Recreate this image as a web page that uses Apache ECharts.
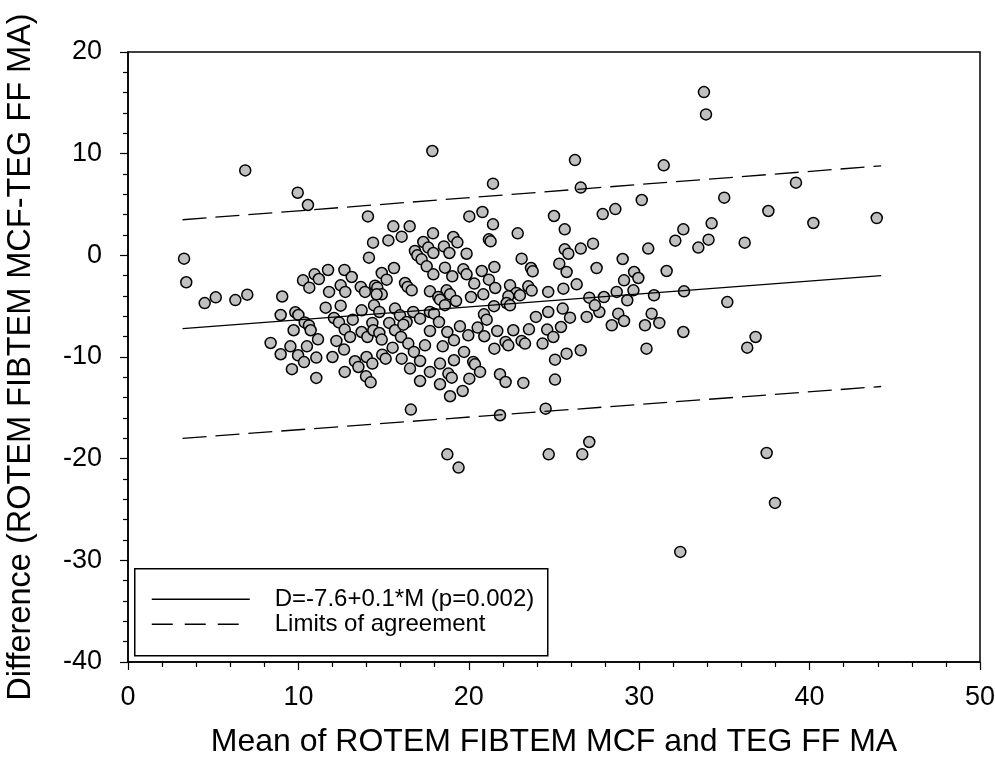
<!DOCTYPE html>
<html>
<head>
<meta charset="utf-8">
<script src="https://cdn.jsdelivr.net/npm/echarts@6/dist/echarts.min.js"></script>
<style>html,body{margin:0;padding:0;background:#fff;}#chart{width:995px;height:780px;}</style>
</head>
<body>
<div id="chart"></div>
<script>
// Mean of the two measurements (x)
const meanVals = [
6.88,9.96,10.56,3.29,3.42,10.27,10.95,11.74,12.70,11.20,10.64,11.80,12.48,12.75,5.15,4.50,6.30,7.00,9.05,8.96,
9.82,10.00,10.37,10.62,10.72,9.72,8.37,8.96,9.53,10.50,11.15,9.98,10.33,11.05,9.62,11.05,11.60,12.48,12.09,12.38,
12.72,12.23,12.68,12.00,12.72,17.86,21.42,14.08,20.03,20.80,21.42,25.00,22.87,15.57,16.53,16.06,15.28,14.38,17.90,17.33,
17.62,17.92,16.84,16.98,17.23,17.53,17.92,18.54,19.09,19.33,18.86,19.87,21.18,21.28,23.10,23.65,23.75,21.50,20.76,19.68,
19.87,18.60,19.03,20.32,21.18,21.55,22.42,22.80,23.49,23.69,24.66,20.85,14.14,15.61,13.13,14.89,15.18,16.26,16.41,16.65,
14.50,14.63,13.66,13.91,14.89,17.72,18.70,18.90,20.13,22.32,23.00,18.21,14.59,18.31,18.60,19.25,21.48,22.22,22.42,23.94,
24.66,13.71,14.44,14.75,15.67,15.96,16.35,16.74,17.14,17.72,17.96,18.25,13.19,13.03,13.71,14.05,14.34,14.40,14.75,14.89,
15.33,15.67,16.02,16.16,16.45,16.78,15.53,14.92,15.12,16.06,16.55,17.14,17.43,17.72,13.32,13.52,14.00,14.34,13.97,14.24,
17.14,17.72,18.31,18.31,18.47,18.74,19.13,19.13,18.80,19.00,18.90,19.64,19.72,19.48,19.97,20.03,20.26,20.36,20.66,20.52,
20.91,20.89,21.05,21.67,21.50,22.16,22.32,22.61,21.83,22.16,23.20,23.10,23.30,23.53,24.33,24.60,24.96,25.06,25.06,16.60,
21.83,24.51,33.80,33.92,26.23,31.44,26.57,30.15,34.99,37.58,27.86,28.60,25.63,32.59,34.25,32.12,34.07,33.47,36.19,27.29,
26.57,25.63,25.84,30.53,25.31,25.74,27.50,29.03,31.61,29.70,29.11,29.95,29.66,26.33,25.55,28.68,30.87,32.63,27.07,27.93,
29.30,35.17,25.51,25.94,26.92,27.66,27.40,28.77,29.11,28.39,30.73,31.18,30.34,32.59,36.83,36.34,30.43,25.41,26.57,25.74,
27.07,26.66,24.69,37.48,39.20,40.22,43.94,18.74,19.40,37.97,32.41
];
// Difference of the two measurements (y)
const diffVals = [
8.35,6.16,4.95,-0.33,-2.65,-2.46,-1.87,-1.44,-1.44,-2.33,-3.18,-3.60,-2.95,-3.60,-4.13,-4.70,-4.40,-3.87,-4.05,-5.87,
-5.60,-5.87,-6.60,-6.90,-7.37,-7.37,-8.62,-9.73,-8.95,-8.95,-8.26,-9.83,-10.50,-10.06,-11.20,-12.06,-5.15,-4.95,-6.16,-6.60,
-7.30,-8.42,-9.27,-10.00,-11.47,10.26,7.05,3.83,3.83,4.26,3.05,3.87,2.16,2.85,2.85,1.84,1.47,1.25,2.16,1.31,
0.76,0.23,0.43,0.00,-0.39,-1.08,-1.87,0.88,1.80,1.28,0.23,0.16,1.57,1.38,-0.33,-1.25,-1.57,-1.15,-1.54,-1.38,
-1.87,-1.21,-2.06,-2.78,-2.39,-3.21,-2.95,-3.70,-3.05,-3.47,-3.60,-3.84,-0.23,-1.25,-2.13,-1.74,-2.39,-2.72,-3.11,-3.44,
-2.98,-3.18,-3.11,-3.60,-3.84,-3.54,-3.44,-3.84,-4.10,-4.03,-3.93,-4.10,-3.84,-4.36,-4.90,-4.49,-5.00,-4.69,-4.92,-6.06,
-5.57,-5.41,-4.92,-5.57,-5.24,-5.90,-6.56,-5.57,-6.23,-5.57,-5.74,-6.56,-6.33,-8.03,-7.54,-8.03,-6.65,-7.37,-7.64,-8.29,
-6.65,-7.37,-8.03,-6.82,-8.68,-9.50,-9.08,-9.77,-10.16,-10.16,-11.14,-10.39,-8.85,-7.44,-10.42,-10.98,-10.00,-10.65,-11.90,-12.49,
-12.36,-11.47,-12.68,-10.65,-8.95,-7.54,-8.36,-10.32,-11.63,-12.03,-13.86,-13.34,-9.50,-6.98,-7.87,-12.13,-10.49,-10.72,-11.47,-7.11,
-7.96,-5.80,-6.33,-7.44,-9.18,-8.52,-8.85,-7.37,-11.70,-12.46,-12.55,-8.42,-8.68,-7.28,-8.68,-7.30,-8.03,-10.26,-12.22,-15.17,
-15.73,-15.08,16.06,13.86,9.37,8.85,6.66,5.44,5.67,4.36,4.06,4.55,2.56,2.56,3.15,1.44,1.54,0.76,1.25,1.15,
0.66,0.59,0.16,0.66,-0.82,-1.64,-1.25,-0.36,-1.54,-1.64,-2.46,-2.23,-3.44,-2.85,-3.28,-3.60,-3.93,-3.54,-4.16,-4.10,
-4.42,-4.60,-5.24,-6.13,-6.06,-5.57,-4.92,-5.74,-6.46,-6.88,-5.74,-6.65,-6.88,-7.54,-8.03,-9.08,-9.18,-7.05,-9.34,-9.67,
-18.36,-19.57,-19.57,-19.44,7.15,3.18,3.67,-19.57,-20.88,-24.35,-29.17
];
// Regression line and limits of agreement (end points)
const lineX = [3.2, 44.2];
const regY = [-7.2, -2.0];
const upperY = [3.5, 8.8];
const lowerY = [-18.0, -12.9];
const xTicks = [0, 10, 20, 30, 40, 50];
const yTicks = [-40, -30, -20, -10, 0, 10, 20];
const legendLabels = ['D=-7.6+0.1*M (p=0.002)', 'Limits of agreement'];

const pts = meanVals.map((m, i) => [m, diffVals[i]]);
const lineData = ys => lineX.map((x, i) => [x, ys[i]]);

const FONT = 'Liberation Sans, Arial, sans-serif';
const chart = echarts.init(document.getElementById('chart'), null, {renderer: 'canvas'});
const axisCommon = {
  axisLine: {show: true, onZero: false, lineStyle: {color: '#000', width: 1.5}},
  axisTick: {show: true, length: 8, lineStyle: {color: '#000', width: 1.2}},
  minorTick: {show: true, splitNumber: 5, length: 5, lineStyle: {color: '#000', width: 1.2}},
  splitLine: {show: false},
  axisLabel: {color: '#000', fontSize: 27, fontFamily: FONT, margin: 26},
  nameTextStyle: {color: '#000', fontSize: 32, fontFamily: FONT}
};
chart.setOption({
  animation: false,
  backgroundColor: '#fff',
  grid: {left: 128, right: 15, top: 52, bottom: 118, outerBoundsMode: 'none', containLabel: false,
         show: true, borderColor: '#000', borderWidth: 1.5, backgroundColor: 'transparent'},
  xAxis: Object.assign({}, axisCommon, {
    type: 'value', min: xTicks[0], max: xTicks[xTicks.length - 1], interval: 10,
    axisLabel: Object.assign({}, axisCommon.axisLabel, {margin: 22}),
    name: 'Mean of ROTEM FIBTEM MCF and TEG FF MA', nameLocation: 'middle', nameGap: 64
  }),
  yAxis: Object.assign({}, axisCommon, {
    type: 'value', min: yTicks[0], max: yTicks[yTicks.length - 1], interval: 10,
    name: 'Difference (ROTEM FIBTEM MCF-TEG FF MA)', nameLocation: 'middle', nameGap: 90,
    nameTextStyle: {color: '#000', fontSize: 32.5, fontFamily: FONT}
  }),
  series: [
    {type: 'scatter', data: pts, symbol: 'circle', symbolSize: 11, z: 2,
     itemStyle: {color: '#c0c0c0', borderColor: '#000', borderWidth: 1.5, opacity: 1}},
    {type: 'line', data: lineData(regY), symbol: 'none', z: 5, lineStyle: {color: '#000', width: 1.3}},
    {type: 'line', data: lineData(upperY), symbol: 'none', z: 5, lineStyle: {color: '#000', width: 1.3, type: [24, 9]}},
    {type: 'line', data: lineData(lowerY), symbol: 'none', z: 5, lineStyle: {color: '#000', width: 1.3, type: [24, 9]}}
  ],
  graphic: [{
    type: 'group', left: 134, top: 568, z: 100,
    children: [
      {type: 'rect', shape: {x: 0, y: 0, width: 413, height: 87}, style: {fill: '#fff', stroke: '#000', lineWidth: 1.5}},
      {type: 'line', shape: {x1: 17, y1: 30.5, x2: 115, y2: 30.5}, style: {stroke: '#000', lineWidth: 1.3}},
      {type: 'line', shape: {x1: 17, y1: 55.5, x2: 115, y2: 55.5}, style: {stroke: '#000', lineWidth: 1.3, lineDash: [21, 12]}},
      {type: 'text', x: 140, y: 31, style: {text: legendLabels[0], fill: '#000', font: '24px ' + FONT, textVerticalAlign: 'middle'}},
      {type: 'text', x: 140, y: 56, style: {text: legendLabels[1], fill: '#000', font: '24px ' + FONT, textVerticalAlign: 'middle'}}
    ]
  }]
});
</script>
</body>
</html>
